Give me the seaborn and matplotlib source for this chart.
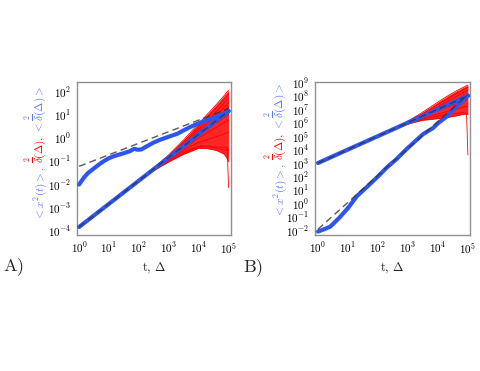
import matplotlib
matplotlib.use("Agg")
import matplotlib.pyplot as plt
import matplotlib.ticker as mticker
import numpy as np
import pandas as pd
import seaborn as sns

# ── data ──────────────────────────────────────────────────────────────────────
delta_grid = [1, 100, 300, 1000, 3000, 1e4, 2e4, 4e4, 7e4, 9e4, 1e5]

# panel A: ensemble MSD <x^2(t)>
a_t = [1, 1.5, 2, 3, 5, 7, 10, 15, 20, 30, 50, 70, 90, 120, 200, 300, 500,
       1000, 2000, 3000, 5000, 1e4, 2e4, 5e4, 1e5]
a_ens = [0.0095, 0.02, 0.03, 0.045, 0.075, 0.1, 0.13, 0.16, 0.18, 0.21, 0.26,
         0.33, 0.3, 0.31, 0.45, 0.6, 0.8, 1.1, 1.5, 2.0, 2.8, 4.2, 5.8, 9.0, 14.0]
# panel A: mean time-averaged MSD <δ²(Δ)> at delta_grid
a_ta = [1.4e-4, 0.014, 0.042, 0.14, 0.42, 1.4, 2.8, 5.6, 9.8, 12.6, 14.0]
a_fit_t = [1, 1e5]
a_fit_lin = [1.4e-4, 14.0]
a_fit_sqrt = [0.058, 18.0]

# panel B
b_t = [1, 1.6, 2.5, 3.2, 5, 10, 20, 42, 100, 195, 400, 910, 1600, 3200,
       6900, 1e4, 1.95e4, 4e4, 1e5]
b_ens = [0.008, 0.012, 0.018, 0.03, 0.08, 0.45, 3.5, 16, 100, 450, 1800,
         1.1e4, 3.5e4, 1.4e5, 4e5, 9e5, 2.8e6, 1.6e7, 1e8]
b_ta = [1e3, 1e5, 3e5, 1e6, 3e6, 1e7, 2e7, 4e7, 7e7, 9e7, 1e8]
b_fit_t = [1, 1e5]
b_fit_lin = [1e3, 1e8]
b_fit_quad = [0.012, 1.2e8]

# spread of single-trajectory δ²(Δ) relative to the mean, at delta_grid
a_spread = [
    [1, 1, 1.10, 1.30, 1.80, 2.9, 3.8, 5.0, 6.5, 7.5, 7.8],
    [1, 1, 1.08, 1.22, 1.55, 2.2, 2.9, 3.6, 4.6, 5.2, 5.6],
    [1, 1, 1.05, 1.15, 1.35, 1.7, 2.0, 2.5, 3.1, 3.5, 3.8],
    [1, 1, 1.02, 1.08, 1.18, 1.35, 1.5, 1.7, 2.0, 2.2, 2.4],
    [1, 1, 1.00, 1.02, 1.05, 1.1, 1.15, 1.25, 1.35, 1.45, 1.5],
    [1, 1, 0.98, 0.95, 0.92, 0.88, 0.82, 0.8, 0.75, 0.73, 0.72],
    [1, 1, 0.96, 0.90, 0.80, 0.7, 0.6, 0.5, 0.45, 0.42, 0.4],
    [1, 1, 0.93, 0.82, 0.68, 0.45, 0.3, 0.2, 0.15, 0.13, 0.12],
    [1, 1, 0.90, 0.75, 0.58, 0.3, 0.15, 0.07, 0.04, 0.03, 0.02],
    [1, 1, 0.88, 0.65, 0.45, 0.25, 0.12, 0.05, 0.02, 0.01, 0.0066],
]
a_spike = [1, 1, 0.92, 0.7, 0.5, 0.3, 0.15, 0.06, 0.03, 0.025, 0.0005]

b_spread = [
    [1, 1, 1.08, 1.3, 1.9, 3.4, 4.5, 5.5, 6.0, 6.2, 6.2],
    [1, 1, 1.05, 1.18, 1.5, 2.3, 2.9, 3.5, 4.0, 4.2, 4.3],
    [1, 1, 1.02, 1.08, 1.2, 1.5, 1.8, 2.1, 2.4, 2.6, 2.7],
    [1, 1, 1.00, 1.02, 1.05, 1.1, 1.15, 1.25, 1.35, 1.4, 1.45],
    [1, 1, 0.99, 0.95, 0.88, 0.8, 0.72, 0.65, 0.6, 0.58, 0.55],
    [1, 1, 0.97, 0.88, 0.7, 0.45, 0.33, 0.25, 0.2, 0.18, 0.15],
    [1, 1, 0.95, 0.8, 0.5, 0.2, 0.12, 0.08, 0.06, 0.05, 0.04],
]
b_spike = [1, 1, 0.97, 0.85, 0.6, 0.3, 0.2, 0.12, 0.08, 0.05, 4e-5]

BLUE = "#2f55ee"
BLUE_TXT = "#5a78ff"
RED = "#ff0000"

sns.set_theme(style="white")
plt.rcParams.update({
    "mathtext.fontset": "cm",
    "font.family": "serif",
    "font.serif": ["DejaVu Serif"],
    "axes.edgecolor": "#909090",
    "axes.linewidth": 1.0,
    "xtick.direction": "in",
    "ytick.direction": "in",
    "xtick.color": "#909090",
    "ytick.color": "#909090",
    "xtick.labelcolor": "black",
    "ytick.labelcolor": "black",
})

W, H = 480, 371
fig = plt.figure(figsize=(W / 100, H / 100), dpi=100)
ax_a = fig.add_axes([77 / W, (H - 235) / H, 154 / W, 153 / H])
ax_b = fig.add_axes([315 / W, (H - 235) / H, 155 / W, 153 / H])


def decade_fmt(v, pos):
    return r"$10^{%d}$" % int(round(np.log10(v)))


def draw_panel(ax, ens_t, ens, ta, spread, spike, fit_t, fits, ydec, xlim):
    # single trajectories
    rows = []
    for k, fac in enumerate(spread + [spike]):
        for d, m, f in zip(delta_grid, ta, fac):
            rows.append({"traj": k, "delta": d, "msd": m * f})
    df = pd.DataFrame(rows)
    env = df[df["traj"] < len(spread)].groupby("delta")["msd"]
    ax.fill_between(env.max().index, env.min().values, env.max().values,
                    color=RED, alpha=0.85, lw=0, zorder=1)
    sns.lineplot(data=df, x="delta", y="msd", units="traj", estimator=None,
                 color=RED, lw=0.6, ax=ax, zorder=2)
    # means
    sns.lineplot(x=ens_t, y=ens, color=BLUE, lw=3, ax=ax, zorder=3)
    sns.lineplot(x=delta_grid, y=ta, color=BLUE, lw=3, ax=ax, zorder=3)
    for f in fits:
        ax.plot(fit_t, f, color="#333333", lw=1, dashes=(5, 3), zorder=4, alpha=0.8)

    ax.set_xscale("log")
    ax.set_yscale("log")
    ax.set_xlim(*xlim)
    ax.set_ylim(10 ** ydec[0], 10 ** ydec[1])
    ax.xaxis.set_major_locator(mticker.FixedLocator([10.0 ** i for i in range(0, 6)]))
    lo, hi = int(np.ceil(ydec[0])), int(np.floor(ydec[1]))
    ax.yaxis.set_major_locator(mticker.FixedLocator([10.0 ** i for i in range(lo, hi + 1)]))
    ax.xaxis.set_minor_locator(mticker.NullLocator())
    ax.yaxis.set_minor_locator(mticker.NullLocator())
    ax.xaxis.set_major_formatter(mticker.FuncFormatter(decade_fmt))
    ax.yaxis.set_major_formatter(mticker.FuncFormatter(decade_fmt))
    ax.tick_params(length=3, width=0.8, labelsize=8, pad=4)
    ax.set_xlabel(r"$\mathrm{t,\,\Delta}$", fontsize=9, labelpad=4)
    ax.set_ylabel("")
    for s in ax.spines.values():
        s.set_visible(True)


draw_panel(ax_a, a_t, a_ens, a_ta, a_spread, a_spike, a_fit_t,
           [a_fit_lin, a_fit_sqrt], (-4.2, 2.4), (10 ** -0.07, 10 ** 5.08))
draw_panel(ax_b, b_t, b_ens, b_ta, b_spread, b_spike, b_fit_t,
           [b_fit_lin, b_fit_quad], (-2.35, 9.02), (10 ** -0.1, 10 ** 5.07))

fig.text(3 / W, (H - 267) / H, r"$\mathrm{A)}$", fontsize=13, va="center", ha="left")
fig.text(243 / W, (H - 268) / H, r"$\mathrm{B)}$", fontsize=13, va="center", ha="left")

# multicoloured y labels, built piece by piece from the bottom up
pieces = [
    (r"${<}x^2(t){>},$", BLUE_TXT),
    (r"$\overset{2}{\overline{\delta}}(\Delta),$", RED),
    (r"${<}\overset{2}{\overline{\delta}}(\Delta){>}$", BLUE_TXT),
]
LABEL_FS = 8
renderer = fig.canvas.get_renderer()
widths = []
for txt, col in pieces:
    tmp = fig.text(0, 0, txt, fontsize=LABEL_FS)
    widths.append(tmp.get_window_extent(renderer).width)
    tmp.remove()
for x_px, y_px in [(43, H - 220), (283, H - 217)]:
    y = y_px
    for (txt, col), w in zip(pieces, widths):
        fig.text(x_px / W, y / H, txt, color=col, fontsize=LABEL_FS, rotation=90,
                 rotation_mode="anchor", ha="left", va="baseline")
        y += w + 3

fig.savefig("out.png", dpi=100)
